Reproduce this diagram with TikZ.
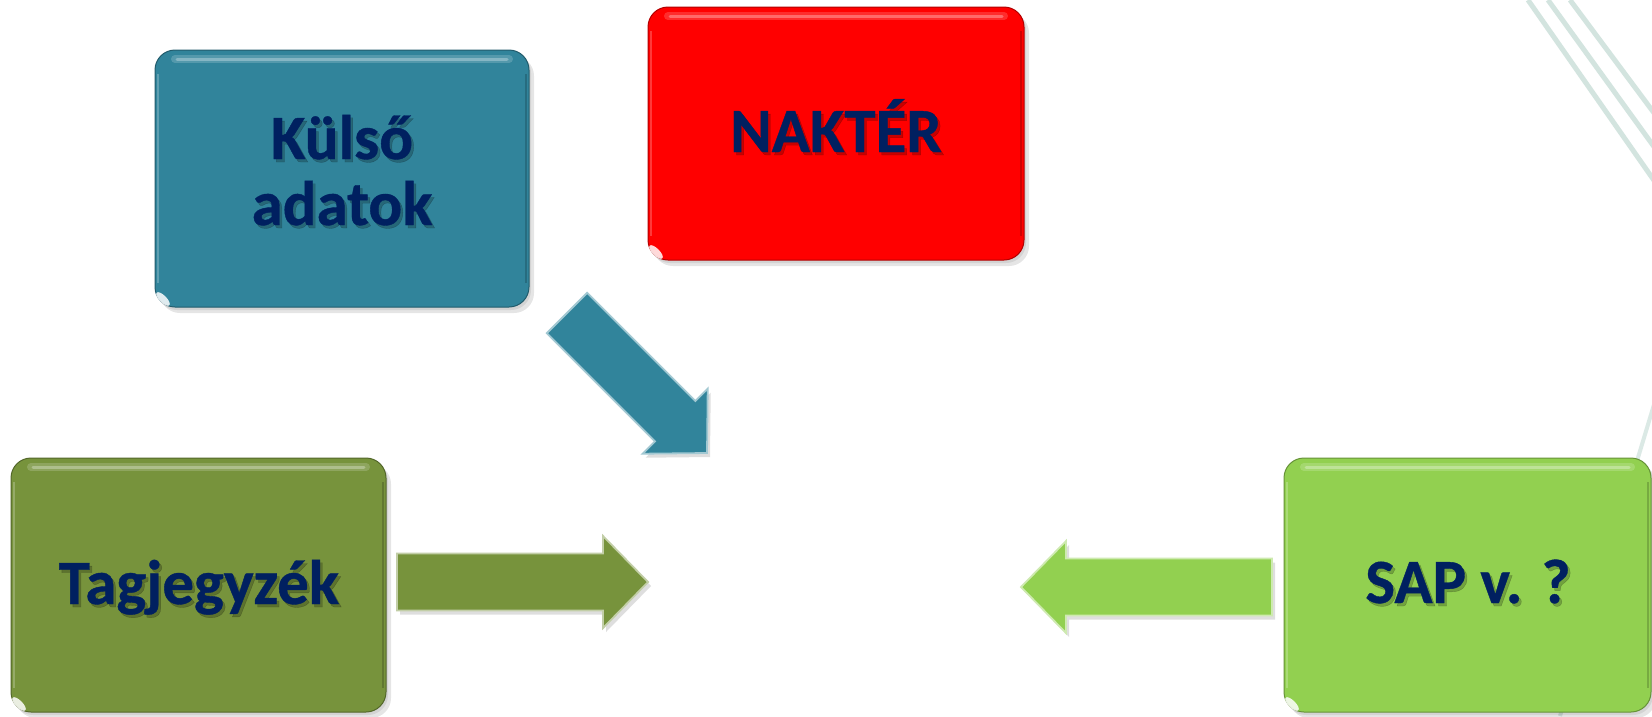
\documentclass[tikz,border=0pt]{standalone}
\usepackage{fontspec}
\setmainfont{Carlito}
\newfontfamily\boxfont{Carlito}[UprightFont=* Bold, FakeBold=0.6]
\definecolor{tealbox}{HTML}{31849B}
\definecolor{olivebox}{HTML}{77933C}
\definecolor{greenbox}{HTML}{92D050}
\definecolor{redbox}{HTML}{FF0000}
\definecolor{navytext}{HTML}{002060}
\definecolor{decoline}{HTML}{D3E4DF}
\tikzset{
  gbox/.style={rounded corners=20pt, line width=1pt, inner sep=0pt},
  lbl/.style={font=\boxfont\fontsize{63}{66}\selectfont, text=navytext, inner sep=0pt, anchor=base},
  lblshadow/.style={lbl, text=black, opacity=.22},
  deco/.style={decoline, line width=5pt},
}
\newcommand\glossybox[6]{%
  \fill[black,opacity=.10,rounded corners=20pt] ({#3-#5/2+5},{#4-#6/2+6}) rectangle ({#3+#5/2+5},{#4+#6/2+6});
  \fill[black,opacity=.08,rounded corners=20pt] ({#3-#5/2+2},{#4-#6/2+3}) rectangle ({#3+#5/2+2},{#4+#6/2+3});
  \node[gbox, fill=#2, draw=#2!70!black, minimum width=#5pt, minimum height=#6pt] (#1) at (#3,#4) {};
  \draw[#2!50!white, line width=8pt, line cap=round, opacity=.35] ({#3-#5/2+20},{#4-#6/2+9}) -- ({#3+#5/2-20},{#4-#6/2+9});
  \draw[#2!35!white, line width=3pt, line cap=round, opacity=.5] ({#3-#5/2+22},{#4-#6/2+9}) -- ({#3+#5/2-22},{#4-#6/2+9});
  \draw[#2!55!white, line width=2pt, opacity=.5] ({#3-#5/2+3},{#4-#6/2+24}) -- ({#3-#5/2+3},{#4+#6/2-24});
  \draw[#2!60!black, line width=2pt, opacity=.45] ({#3+#5/2-3},{#4-#6/2+24}) -- ({#3+#5/2-3},{#4+#6/2-24});
  \fill[white, opacity=.85, rotate around={-45:({#3-#5/2+8},{#4+#6/2-8})}] ({#3-#5/2+8},{#4+#6/2-8}) ellipse (9pt and 3.5pt);
}
\newcommand\labeltext[4]{%
  \node[lblshadow] (#1s) at ({#2+2.5},{#3+3}) {#4};
  \node[lbl] (#1) at (#2,#3) {#4};
}
\newcommand\blockarrow[6]{%
  \fill[black, opacity=.13, shift={({#3+3},{#4+4})}, rotate=#5]
    (0,-28.5) -- ({#6-45},-28.5) -- ({#6-45},-46) -- (#6,0) -- ({#6-45},46) -- ({#6-45},28.5) -- (0,28.5) -- cycle;
  \filldraw[fill=#2, draw=#2!45!white, line width=1.8pt, line join=miter, shift={(#3,#4)}, rotate=#5]
    (0,-28.5) -- ({#6-45},-28.5) -- ({#6-45},-46) -- (#6,0) -- ({#6-45},46) -- ({#6-45},28.5) -- (0,28.5) -- cycle;
  \coordinate[shift={(#3,#4)}, rotate=#5] (#1) at (#6,0);
}
\begin{document}
\begin{tikzpicture}[x=1pt,y=-1pt]
\useasboundingbox (0,0) rectangle (1652,716);
\fill[white] (0,0) rectangle (1652,716);
% background decoration
\draw[deco] (1528,0) -- (1660,189);
\draw[deco] (1548,0) -- (1660,155);
\draw[deco] (1570,0) -- (1660,121);
\draw[deco, line width=4pt, opacity=.8] (1656,398) -- (1560,716);
% boxes
\glossybox{kulso}{tealbox}{342}{178.5}{374}{257}
\glossybox{nakter}{redbox}{836}{133.5}{376}{253}
\glossybox{tag}{olivebox}{198.5}{585}{375}{254}
\glossybox{sap}{greenbox}{1467.5}{585}{367}{254}
% arrows
\blockarrow{arrA}{tealbox}{567}{313}{-45}{198}
\blockarrow{arrB}{olivebox}{397}{582}{0}{251}
\blockarrow{arrC}{greenbox}{1272}{587}{180}{251}
% texts
\labeltext{tk1}{342}{159}{Külső}
\labeltext{tk2}{342}{225}{adatok}
\labeltext{tn}{836}{152}{NAKTÉR}
\labeltext{tt}{199}{604}{Tagjegyzék}
\labeltext{ts}{1468}{603}{SAP v. ?}
\end{tikzpicture}
\end{document}
